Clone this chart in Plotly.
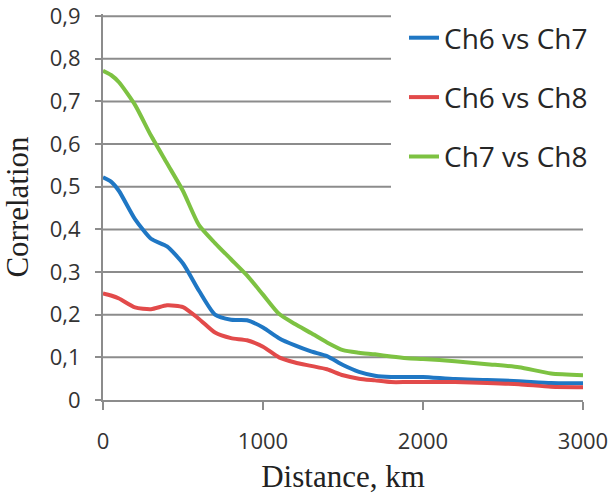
import plotly.graph_objects as go

# Distance grid (km) shared by the three correlation curves
distance_km = [0, 50, 100, 200, 300, 400, 500, 600, 700, 800, 900, 1000,
               1100, 1200, 1300, 1400, 1500, 1600, 1700, 1800, 1900, 2000,
               2200, 2400, 2600, 2800, 3000]

ch6_vs_ch7 = [0.522, 0.512, 0.490, 0.424, 0.378, 0.360, 0.320, 0.256, 0.200,
              0.188, 0.187, 0.170, 0.145, 0.128, 0.114, 0.103, 0.082, 0.066,
              0.057, 0.054, 0.054, 0.054, 0.049, 0.047, 0.044, 0.040, 0.039]

ch6_vs_ch8 = [0.250, 0.245, 0.238, 0.217, 0.213, 0.222, 0.218, 0.190, 0.158,
              0.145, 0.140, 0.125, 0.100, 0.088, 0.080, 0.072, 0.058, 0.050,
              0.046, 0.042, 0.042, 0.042, 0.042, 0.040, 0.037, 0.031, 0.030]

ch7_vs_ch8 = [0.772, 0.762, 0.745, 0.692, 0.620, 0.555, 0.490, 0.410, 0.368,
              0.330, 0.292, 0.247, 0.202, 0.178, 0.157, 0.135, 0.117, 0.111,
              0.107, 0.102, 0.098, 0.096, 0.091, 0.084, 0.077, 0.062, 0.058]

series_names = ["Ch6 vs Ch7", "Ch6 vs Ch8", "Ch7 vs Ch8"]
series_colors = ["#1f77c4", "#e24a4a", "#7dc242"]

x_ticks = [0, 1000, 2000, 3000]
y_ticks = [0, 0.1, 0.2, 0.3, 0.4, 0.5, 0.6, 0.7, 0.8, 0.9]
y_tick_labels = ["0", "0,1", "0,2", "0,3", "0,4", "0,5", "0,6", "0,7", "0,8", "0,9"]

GRID = "#8c8c8c"

fig = go.Figure()
for name, ys, color in zip(series_names, [ch6_vs_ch7, ch6_vs_ch8, ch7_vs_ch8], series_colors):
    fig.add_trace(go.Scatter(
        x=distance_km, y=ys, name=name, mode="lines",
        line=dict(color=color, width=4, shape="spline", smoothing=0.6),
        legendgroup=name,
    ))

# Horizontal grid lines; the upper ones stop short of the legend
for yv in y_ticks[1:]:
    x_end = 1800 if yv > 0.45 else 3000
    fig.add_shape(type="line", xref="x", yref="y", x0=0, x1=x_end, y0=yv, y1=yv,
                  line=dict(color=GRID, width=2), layer="below")

fig.update_layout(
    width=609, height=494,
    margin=dict(l=103, r=26, t=14, b=94, autoexpand=False),
    paper_bgcolor="white", plot_bgcolor="white",
    showlegend=True,
    legend=dict(
        x=404 / 609, xanchor="left", y=1 - 13 / 494, yanchor="top",
        xref="container", yref="container",
        font=dict(family="Open Sans", size=28, color="#262626"),
        bgcolor="rgba(0,0,0,0)", tracegroupgap=20,
    ),
    xaxis=dict(
        range=[0, 3000], tickvals=x_ticks,
        showgrid=False, zeroline=False,
        showline=True, linecolor=GRID, linewidth=2,
        ticks="outside", ticklen=8, tickwidth=2, tickcolor=GRID,
        tickfont=dict(family="Open Sans", size=22, color="#333333"),
        ticklabelstandoff=13, ticklabeloverflow="allow",
        title=dict(text="Distance, km", standoff=14,
                   font=dict(family="Liberation Serif", size=31, color="#222222")),
    ),
    yaxis=dict(
        range=[0, 0.905], tickvals=y_ticks, ticktext=y_tick_labels,
        showgrid=False, zeroline=False,
        showline=True, linecolor=GRID, linewidth=2,
        ticks="outside", ticklen=6, tickwidth=2, tickcolor=GRID,
        tickfont=dict(family="Open Sans", size=22, color="#333333"),
        ticklabelstandoff=10, ticklabeloverflow="allow",
        title=dict(text="Correlation", standoff=14,
                   font=dict(family="Liberation Serif", size=31, color="#222222")),
    ),
)

fig.write_html("out.html")
